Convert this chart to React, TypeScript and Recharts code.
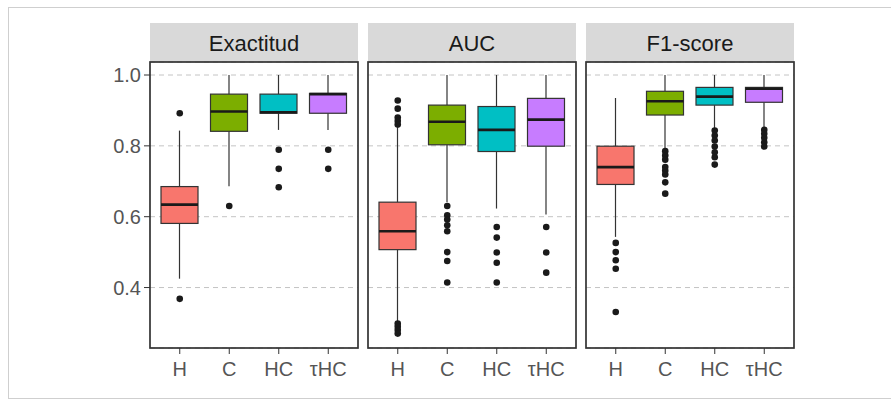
import React from 'react';
import { ComposedChart, Bar, Scatter, XAxis, YAxis, CartesianGrid } from 'recharts';

const CATEGORIES = ['H', 'C', 'HC', 'τHC'];
const COLORS = ['#F8766D', '#7CAE00', '#00BFC4', '#C77CFF'];
const Y_TICKS = [0.4, 0.6, 0.8, 1.0];
const Y_DOMAIN: [number, number] = [0.2293, 1.0367];

// each row: [lower whisker, Q1, median, Q3, upper whisker]
const EXACTITUD_BOXES = [
  [0.425, 0.581, 0.634, 0.685, 0.843],
  [0.686, 0.841, 0.897, 0.946, 1.0],
  [0.845, 0.892, 0.895, 0.946, 1.0],
  [0.845, 0.892, 0.946, 0.948, 1.0],
];
const EXACTITUD_OUTLIERS = [[0.892, 0.368], [0.63], [0.789, 0.735, 0.683], [0.789, 0.735]];

const AUC_BOXES = [
  [0.303, 0.507, 0.559, 0.641, 0.852],
  [0.641, 0.803, 0.868, 0.915, 1.0],
  [0.623, 0.784, 0.845, 0.911, 1.0],
  [0.606, 0.799, 0.874, 0.934, 1.0],
];
const AUC_OUTLIERS = [
  [0.928, 0.905, 0.88, 0.87, 0.86, 0.298, 0.289, 0.28, 0.27],
  [0.63, 0.604, 0.592, 0.576, 0.559, 0.5, 0.475, 0.414],
  [0.571, 0.541, 0.499, 0.47, 0.414],
  [0.571, 0.499, 0.442],
];

const F1_BOXES = [
  [0.543, 0.691, 0.74, 0.799, 0.935],
  [0.792, 0.887, 0.926, 0.954, 1.0],
  [0.848, 0.915, 0.939, 0.965, 1.0],
  [0.852, 0.923, 0.961, 0.965, 1.0],
];
const F1_OUTLIERS = [
  [0.526, 0.5, 0.477, 0.453, 0.331],
  [0.785, 0.773, 0.761, 0.74, 0.73, 0.719, 0.697, 0.665],
  [0.843, 0.829, 0.815, 0.798, 0.782, 0.768, 0.747],
  [0.845, 0.834, 0.823, 0.81, 0.798],
];

const PANELS = [
  { title: 'Exactitud', left: 150, boxes: EXACTITUD_BOXES, outliers: EXACTITUD_OUTLIERS, showY: true },
  { title: 'AUC', left: 368, boxes: AUC_BOXES, outliers: AUC_OUTLIERS, showY: false },
  { title: 'F1-score', left: 586, boxes: F1_BOXES, outliers: F1_OUTLIERS, showY: false },
];

const FONT = '"Liberation Sans", Arial, sans-serif';
const PANEL_W = 208;
const PANEL_TOP = 62;
const PANEL_BOTTOM = 348;
const CHART_H = 401;
const Y_AXIS_W = 150;
const X_AXIS_H = 40;

const BoxShape = (props: any) => {
  const { x, y, width, height } = props;
  const p = props.payload ?? props;
  if (x == null || y == null || !p || p.low == null) return null;
  const top = Math.min(y, y + height);
  const h = Math.abs(height);
  const py = (v: number) => top + ((p.high - v) / (p.high - p.low)) * h;
  const cx = x + width / 2;
  return (
    <g>
      <line x1={cx} x2={cx} y1={py(p.high)} y2={py(p.q3)} stroke="#333333" strokeWidth={1.2} />
      <line x1={cx} x2={cx} y1={py(p.q1)} y2={py(p.low)} stroke="#333333" strokeWidth={1.2} />
      <rect x={x} y={py(p.q3)} width={width} height={py(p.q1) - py(p.q3)} fill={p.color} stroke="#333333" strokeWidth={1.2} />
      <line x1={x} x2={x + width} y1={py(p.median)} y2={py(p.median)} stroke="#1A1A1A" strokeWidth={2.6} />
    </g>
  );
};

const OutlierDot = (props: any) => {
  if (props.cx == null || props.cy == null) return null;
  return <circle cx={props.cx} cy={props.cy} r={3.3} fill="#1A1A1A" />;
};

function Panel({ title, left, boxes, outliers, showY }: any) {
  const data = CATEGORIES.map((name, i) => ({
    name,
    range: [boxes[i][0], boxes[i][4]],
    low: boxes[i][0],
    q1: boxes[i][1],
    median: boxes[i][2],
    q3: boxes[i][3],
    high: boxes[i][4],
    color: COLORS[i],
  }));
  const outlierData = CATEGORIES.flatMap((name, i) => outliers[i].map((value: number) => ({ name, value })));
  const chartLeft = showY ? left - Y_AXIS_W : left;
  const chartW = showY ? Y_AXIS_W + PANEL_W : PANEL_W;
  return (
    <>
      <div
        style={{
          position: 'absolute',
          left,
          top: 23,
          width: PANEL_W,
          height: PANEL_TOP - 23,
          background: '#D9D9D9',
          color: '#1A1A1A',
          fontFamily: FONT,
          fontSize: 22,
          lineHeight: `${PANEL_TOP - 23 + 2}px`,
          textAlign: 'center',
        }}
      >
        {title}
      </div>
      <div style={{ position: 'absolute', left: chartLeft, top: 0 }}>
        <ComposedChart
          width={chartW}
          height={CHART_H}
          data={data}
          margin={{ top: PANEL_TOP, right: 0, left: 0, bottom: CHART_H - PANEL_BOTTOM - X_AXIS_H }}
          barSize={37}
        >
          <CartesianGrid vertical={false} stroke="#C4C4C4" strokeDasharray="5 4" strokeWidth={1} />
          <XAxis
            dataKey="name"
            type="category"
            allowDuplicatedCategory={false}
            padding={{ left: 5, right: 5 }}
            height={X_AXIS_H}
            axisLine={false}
            tickLine={{ stroke: '#333333' }}
            tickSize={6}
            tickMargin={8}
            tick={{ fill: '#555555', fontSize: 20, fontFamily: FONT }}
          />
          <YAxis
            type="number"
            domain={Y_DOMAIN}
            allowDataOverflow
            ticks={Y_TICKS}
            hide={!showY}
            width={Y_AXIS_W}
            axisLine={false}
            tickLine={{ stroke: '#333333' }}
            tickSize={6}
            tickMargin={3}
            tickFormatter={(v: number) => v.toFixed(1)}
            tick={{ fill: '#555555', fontSize: 20, fontFamily: FONT }}
          />
          <Bar dataKey="range" shape={BoxShape} isAnimationActive={false} />
          <Scatter data={outlierData} dataKey="value" shape={OutlierDot} isAnimationActive={false} />
        </ComposedChart>
      </div>
      <svg
        style={{ position: 'absolute', left: 0, top: 0, pointerEvents: 'none' }}
        width={891}
        height={401}
      >
        <rect x={left} y={PANEL_TOP} width={PANEL_W} height={PANEL_BOTTOM - PANEL_TOP} fill="none" stroke="#333333" strokeWidth={1.7} />
      </svg>
    </>
  );
}

export default function App() {
  return (
    <div style={{ position: 'absolute', left: 0, top: 0, width: 891, height: 401, background: '#FFFFFF', overflow: 'hidden' }}>
      <div style={{ position: 'absolute', left: 8, top: 7, width: 900, height: 392, border: '1px solid #CFCFCF', boxSizing: 'border-box' }} />
      {PANELS.map((p) => (
        <Panel key={p.title} {...p} />
      ))}
    </div>
  );
}
